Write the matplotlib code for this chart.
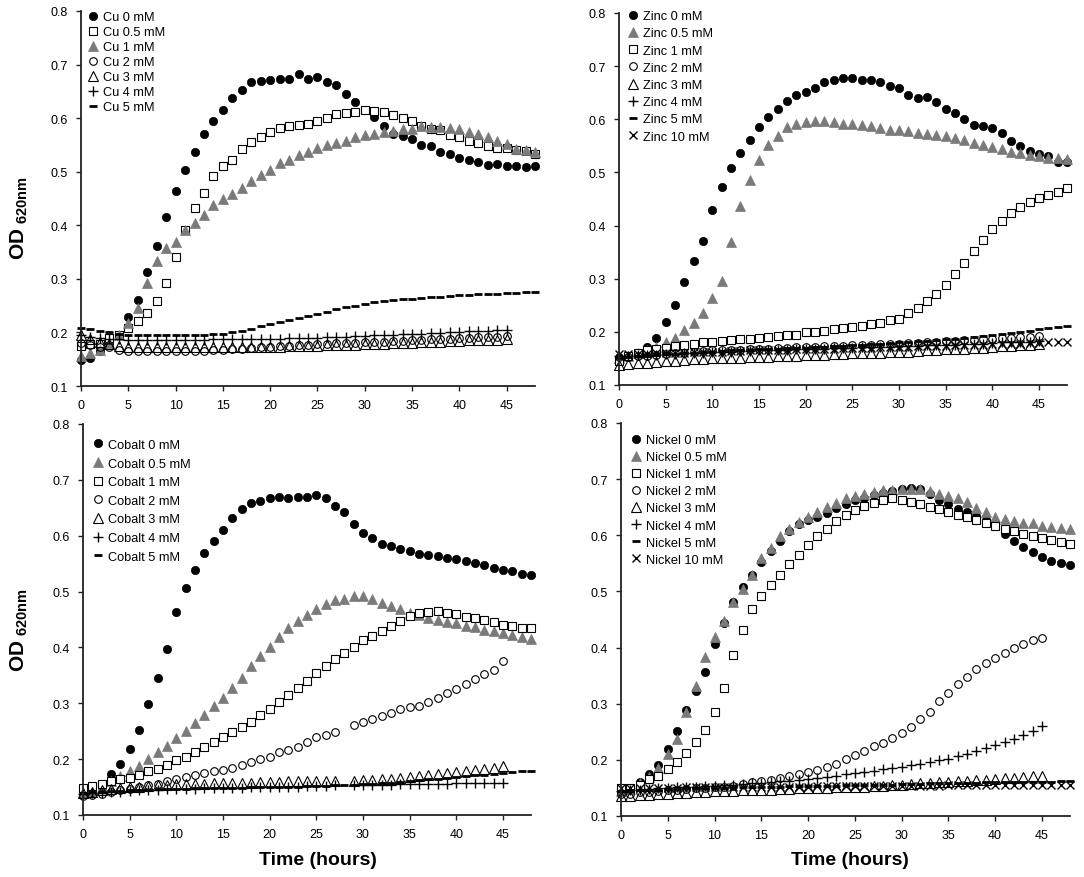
import numpy as np
import matplotlib
matplotlib.use("Agg")
import matplotlib.pyplot as plt

plt.rcParams['font.family'] = ['Liberation Sans', 'DejaVu Sans']
plt.rcParams['mathtext.fontset'] = 'custom'
plt.rcParams['mathtext.rm'] = 'Liberation Sans'
plt.rcParams['mathtext.bf'] = 'Liberation Sans:bold'

nan = np.nan
hours = np.arange(49)

# ---- Copper ----
cu_labels = ['Cu 0 mM', 'Cu 0.5 mM', 'Cu 1 mM', 'Cu 2 mM', 'Cu 3 mM', 'Cu 4 mM', 'Cu 5 mM']
cu0 = [0.149, 0.153, 0.165, 0.180, 0.195, 0.229, 0.260, 0.313, 0.361, 0.415,
       0.464, 0.504, 0.537, 0.570, 0.594, 0.616, 0.637, 0.652, 0.667, 0.669,
       0.671, 0.674, 0.674, 0.682, 0.674, 0.677, 0.668, 0.661, 0.646, 0.630,
       0.615, 0.602, 0.585, 0.570, 0.567, 0.562, 0.550, 0.548, 0.537, 0.534,
       0.526, 0.522, 0.518, 0.513, 0.515, 0.511, 0.511, 0.508, 0.511]
cu05 = [0.175, 0.178, 0.178, 0.190, 0.195, 0.209, 0.221, 0.236, 0.259, 0.292,
        0.341, 0.391, 0.432, 0.460, 0.492, 0.511, 0.522, 0.543, 0.556, 0.564,
        0.575, 0.582, 0.585, 0.588, 0.590, 0.594, 0.600, 0.607, 0.609, 0.611,
        0.616, 0.614, 0.612, 0.606, 0.600, 0.595, 0.585, 0.580, 0.577, 0.569,
        0.564, 0.557, 0.554, 0.548, 0.545, 0.545, 0.541, 0.539, 0.534]
cu1 = [0.156, 0.162, 0.168, 0.180, 0.195, 0.218, 0.246, 0.293, 0.333, 0.358,
       0.369, 0.391, 0.405, 0.420, 0.437, 0.450, 0.458, 0.470, 0.483, 0.494,
       0.503, 0.516, 0.521, 0.531, 0.537, 0.545, 0.549, 0.554, 0.558, 0.564,
       0.568, 0.570, 0.575, 0.576, 0.579, 0.580, 0.585, 0.584, 0.583, 0.582,
       0.580, 0.574, 0.570, 0.565, 0.557, 0.551, 0.543, 0.541, 0.536]
cu2 = [0.180, 0.176, 0.172, 0.172, 0.168, 0.166, 0.166, 0.166, 0.166, 0.166,
       0.166, 0.166, 0.166, 0.166, 0.167, 0.168, 0.169, 0.170, 0.171, 0.172,
       0.173, 0.174, 0.175, 0.176, 0.177, 0.178, 0.179, 0.180, 0.180, 0.181,
       0.182, 0.182, 0.183, 0.184, 0.184, 0.185, 0.186, 0.187, 0.187, 0.188,
       0.189, 0.190, 0.191, 0.191, 0.192, 0.193]
cu3 = [0.195, 0.188, 0.182, 0.178, 0.175, 0.172, 0.172, 0.172, 0.172, 0.172,
       0.172, 0.172, 0.172, 0.172, 0.172, 0.172, 0.172, 0.172, 0.173, 0.173,
       0.173, 0.173, 0.174, 0.174, 0.174, 0.175, 0.176, 0.176, 0.177, 0.177,
       0.178, 0.178, 0.179, 0.180, 0.181, 0.181, 0.182, 0.183, 0.183, 0.184,
       0.184, 0.185, 0.185, 0.186, 0.186, 0.187]
cu4 = [0.195, 0.192, 0.190, 0.188, 0.187, 0.186, 0.186, 0.186, 0.186, 0.186,
       0.186, 0.186, 0.186, 0.186, 0.187, 0.187, 0.187, 0.187, 0.187, 0.188,
       0.188, 0.188, 0.189, 0.189, 0.190, 0.190, 0.191, 0.192, 0.192, 0.193,
       0.194, 0.195, 0.195, 0.196, 0.197, 0.197, 0.198, 0.199, 0.199, 0.200,
       0.201, 0.202, 0.202, 0.203, 0.204, 0.205]
cu5 = [0.209, 0.206, 0.203, 0.200, 0.198, 0.196, 0.196, 0.196, 0.196, 0.196,
       0.196, 0.196, 0.196, 0.196, 0.197, 0.198, 0.200, 0.203, 0.206, 0.212,
       0.216, 0.220, 0.223, 0.227, 0.231, 0.235, 0.239, 0.243, 0.247, 0.250,
       0.253, 0.256, 0.258, 0.260, 0.262, 0.263, 0.265, 0.266, 0.267, 0.268,
       0.269, 0.270, 0.271, 0.272, 0.272, 0.273, 0.274, 0.275, 0.276]

# ---- Zinc ----
zn_labels = ['Zinc 0 mM', 'Zinc 0.5 mM', 'Zinc 1 mM', 'Zinc 2 mM', 'Zinc 3 mM',
             'Zinc 4 mM', 'Zinc 5 mM', 'Zinc 10 mM']
zn0 = [0.150, 0.155, 0.160, 0.172, 0.188, 0.219, 0.250, 0.294, 0.334, 0.371,
       0.430, 0.472, 0.509, 0.536, 0.561, 0.585, 0.605, 0.620, 0.635, 0.646,
       0.651, 0.658, 0.671, 0.674, 0.677, 0.677, 0.673, 0.673, 0.671, 0.662,
       0.658, 0.646, 0.640, 0.642, 0.632, 0.620, 0.611, 0.600, 0.590, 0.588,
       0.584, 0.574, 0.560, 0.550, 0.541, 0.534, 0.530, 0.519, 0.519]
zn05 = [0.150, 0.155, 0.160, 0.165, 0.172, 0.181, 0.189, 0.204, 0.217, 0.236,
        0.263, 0.295, 0.370, 0.437, 0.486, 0.524, 0.551, 0.569, 0.585, 0.592,
        0.594, 0.596, 0.597, 0.595, 0.592, 0.592, 0.590, 0.588, 0.583, 0.580,
        0.580, 0.578, 0.575, 0.573, 0.571, 0.569, 0.564, 0.561, 0.556, 0.552,
        0.548, 0.544, 0.539, 0.536, 0.533, 0.530, 0.528, 0.527, 0.526]
zn1 = [0.145, 0.155, 0.160, 0.165, 0.168, 0.170, 0.173, 0.175, 0.178, 0.180,
       0.181, 0.182, 0.184, 0.186, 0.186, 0.188, 0.190, 0.192, 0.194, 0.195,
       0.199, 0.200, 0.202, 0.205, 0.207, 0.209, 0.211, 0.214, 0.217, 0.222,
       0.225, 0.235, 0.244, 0.258, 0.272, 0.288, 0.308, 0.329, 0.352, 0.373,
       0.393, 0.409, 0.423, 0.435, 0.445, 0.452, 0.458, 0.464, 0.470]
zn2 = [0.152, 0.153, 0.154, 0.155, 0.157, 0.158, 0.160, 0.161, 0.162, 0.164,
       0.165, 0.165, 0.166, 0.166, 0.167, 0.168, 0.168, 0.169, 0.170, 0.171,
       0.172, 0.172, 0.173, 0.173, 0.174, 0.175, 0.175, 0.176, 0.177, 0.177,
       0.178, 0.179, 0.179, 0.180, 0.181, 0.182, 0.183, 0.184, 0.185, 0.186,
       0.187, 0.188, 0.189, 0.190, 0.191, 0.192]
zn3 = [0.138, 0.140, 0.141, 0.142, 0.144, 0.145, 0.146, 0.147, 0.148, 0.149,
       0.150, 0.150, 0.151, 0.151, 0.152, 0.153, 0.153, 0.154, 0.155, 0.155,
       0.156, 0.157, 0.157, 0.158, 0.159, 0.160, 0.160, 0.161, 0.161, 0.162,
       0.163, 0.163, 0.164, 0.165, 0.166, 0.167, 0.168, 0.168, 0.169, 0.170,
       0.172, 0.173, 0.174, 0.175, 0.176, 0.177]
zn4 = [0.155, 0.155, 0.156, 0.157, 0.157, 0.158, 0.159, 0.160, 0.161, 0.161,
       0.162, 0.163, 0.163, 0.164, 0.164, 0.165, 0.165, 0.166, 0.166, 0.167,
       0.167, 0.168, 0.168, 0.169, 0.169, 0.170, 0.171, 0.171, 0.172, 0.172,
       0.173, 0.173, 0.174, 0.175, 0.175, 0.176, 0.176, 0.177, 0.178, 0.178,
       0.179, 0.180, 0.180, 0.181, 0.181, 0.182]
zn5 = [0.150, 0.152, 0.154, 0.155, 0.156, 0.158, 0.159, 0.160, 0.161, 0.162,
       0.163, 0.164, 0.165, 0.165, 0.166, 0.167, 0.167, 0.168, 0.169, 0.169,
       0.170, 0.171, 0.172, 0.173, 0.174, 0.175, 0.176, 0.177, 0.178, 0.179,
       0.180, 0.181, 0.182, 0.183, 0.184, 0.186, 0.187, 0.188, 0.190, 0.192,
       0.194, 0.196, 0.198, 0.200, 0.202, 0.205, 0.207, 0.209, 0.211]
zn10 = [0.158, 0.158, 0.159, 0.159, 0.160, 0.160, 0.161, 0.161, 0.162, 0.162,
        0.163, 0.163, 0.164, 0.164, 0.165, 0.165, 0.165, 0.166, 0.166, 0.167,
        0.167, 0.167, 0.168, 0.168, 0.169, 0.169, 0.170, 0.170, 0.171, 0.171,
        0.172, 0.172, 0.173, 0.173, 0.174, 0.174, 0.175, 0.175, 0.176, 0.176,
        0.177, 0.177, 0.178, 0.178, 0.179, 0.179, 0.180, 0.180, 0.180]

# ---- Cobalt ----
co_labels = ['Cobalt 0 mM', 'Cobalt 0.5 mM', 'Cobalt 1 mM', 'Cobalt 2 mM',
             'Cobalt 3 mM', 'Cobalt 4 mM', 'Cobalt 5 mM']
co0 = [0.140, 0.142, 0.150, 0.173, 0.192, 0.219, 0.252, 0.298, 0.345, 0.397,
       0.464, 0.506, 0.539, 0.569, 0.591, 0.610, 0.631, 0.647, 0.658, 0.662,
       0.668, 0.670, 0.668, 0.670, 0.670, 0.673, 0.668, 0.653, 0.643, 0.621,
       0.604, 0.596, 0.585, 0.581, 0.576, 0.572, 0.567, 0.565, 0.563, 0.560,
       0.558, 0.554, 0.552, 0.547, 0.543, 0.538, 0.536, 0.531, 0.529]
co05 = [0.140, 0.145, 0.150, 0.160, 0.170, 0.179, 0.187, 0.201, 0.213, 0.224,
        0.237, 0.250, 0.265, 0.279, 0.295, 0.310, 0.328, 0.346, 0.366, 0.385,
        0.401, 0.419, 0.434, 0.447, 0.458, 0.468, 0.477, 0.485, 0.486, 0.492,
        0.492, 0.487, 0.479, 0.474, 0.468, 0.462, 0.458, 0.453, 0.450, 0.446,
        0.443, 0.439, 0.436, 0.431, 0.430, 0.425, 0.422, 0.418, 0.415]
co1 = [0.148, 0.152, 0.156, 0.160, 0.164, 0.167, 0.172, 0.178, 0.182, 0.189,
       0.199, 0.204, 0.213, 0.222, 0.231, 0.240, 0.249, 0.258, 0.267, 0.279,
       0.289, 0.303, 0.314, 0.327, 0.340, 0.354, 0.366, 0.379, 0.390, 0.401,
       0.413, 0.421, 0.430, 0.439, 0.447, 0.456, 0.461, 0.464, 0.465, 0.462,
       0.459, 0.455, 0.452, 0.449, 0.446, 0.441, 0.439, 0.434, 0.434]
co2 = [0.134, 0.135, 0.138, 0.141, 0.144, 0.147, 0.150, 0.153, 0.156, 0.160,
       0.164, 0.168, 0.172, 0.176, 0.178, 0.181, 0.184, 0.189, 0.194, 0.200,
       0.204, 0.212, 0.216, 0.222, 0.231, 0.239, 0.243, 0.249, nan, 0.261,
       0.267, 0.271, 0.277, 0.283, 0.289, 0.294, 0.296, 0.303, 0.310, 0.318,
       0.325, 0.334, 0.343, 0.352, 0.360, 0.375]
co3 = [0.140, 0.142, 0.144, 0.146, 0.148, 0.150, 0.151, 0.152, 0.153, 0.154,
       0.155, 0.155, 0.156, 0.156, 0.157, 0.157, 0.158, 0.158, 0.158, 0.159,
       0.159, 0.159, 0.160, 0.160, 0.160, 0.161, 0.161, 0.161, nan, 0.161,
       0.162, 0.163, 0.164, 0.165, 0.166, 0.168, 0.169, 0.171, 0.173, 0.175,
       0.177, 0.179, 0.181, 0.183, 0.184, 0.187]
co4 = [0.138, 0.139, 0.140, 0.141, 0.142, 0.143, 0.144, 0.145, 0.145, 0.146,
       0.146, 0.147, 0.147, 0.148, 0.148, 0.148, 0.149, 0.149, 0.150, 0.150,
       0.150, 0.151, 0.151, 0.151, 0.152, 0.152, 0.152, 0.153, nan, 0.153,
       0.153, 0.154, 0.154, 0.154, 0.155, 0.155, 0.155, 0.156, 0.156, 0.156,
       0.157, 0.157, 0.157, 0.157, 0.158, 0.158]
co5 = [0.140, 0.141, 0.142, 0.143, 0.143, 0.144, 0.145, 0.145, 0.146, 0.146,
       0.147, 0.147, 0.148, 0.148, 0.148, 0.149, 0.149, 0.149, 0.150, 0.150,
       0.150, 0.151, 0.151, 0.151, 0.152, 0.152, 0.152, 0.153, 0.153, 0.154,
       0.155, 0.156, 0.157, 0.158, 0.159, 0.161, 0.162, 0.164, 0.165, 0.167,
       0.168, 0.169, 0.171, 0.172, 0.173, 0.175, 0.177, 0.178, 0.179]

# ---- Nickel ----
ni_labels = ['Nickel 0 mM', 'Nickel 0.5 mM', 'Nickel 1 mM', 'Nickel 2 mM',
             'Nickel 3 mM', 'Nickel 4 mM', 'Nickel 5 mM', 'Nickel 10 mM']
ni0 = [0.145, 0.148, 0.160, 0.174, 0.191, 0.219, 0.252, 0.288, 0.322, 0.357,
       0.406, 0.444, 0.481, 0.507, 0.530, 0.552, 0.572, 0.589, 0.607, 0.620,
       0.627, 0.633, 0.639, 0.648, 0.655, 0.663, 0.667, 0.671, 0.676, 0.679,
       0.682, 0.684, 0.682, 0.673, 0.663, 0.655, 0.647, 0.642, 0.635, 0.628,
       0.617, 0.602, 0.590, 0.580, 0.571, 0.561, 0.555, 0.550, 0.547]
ni05 = [0.145, 0.148, 0.158, 0.170, 0.185, 0.211, 0.238, 0.285, 0.331, 0.384,
        0.418, 0.448, 0.481, 0.504, 0.530, 0.559, 0.578, 0.599, 0.612, 0.623,
        0.632, 0.642, 0.650, 0.658, 0.666, 0.670, 0.674, 0.677, 0.680, 0.680,
        0.682, 0.683, 0.682, 0.678, 0.674, 0.670, 0.666, 0.660, 0.648, 0.642,
        0.633, 0.629, 0.626, 0.621, 0.621, 0.617, 0.615, 0.613, 0.612]
ni1 = [0.149, 0.150, 0.155, 0.166, 0.172, 0.184, 0.196, 0.213, 0.232, 0.254,
       0.286, 0.328, 0.387, 0.432, 0.468, 0.492, 0.512, 0.530, 0.549, 0.565,
       0.583, 0.599, 0.612, 0.626, 0.636, 0.645, 0.652, 0.658, 0.663, 0.666,
       0.663, 0.660, 0.655, 0.651, 0.647, 0.642, 0.636, 0.632, 0.627, 0.621,
       0.617, 0.611, 0.608, 0.603, 0.599, 0.595, 0.591, 0.588, 0.585]
ni2 = [0.140, 0.140, 0.142, 0.143, 0.145, 0.146, 0.147, 0.148, 0.149, 0.150,
       0.151, 0.152, 0.153, 0.157, 0.160, 0.163, 0.165, 0.168, 0.171, 0.174,
       0.178, 0.182, 0.187, 0.193, 0.202, 0.208, 0.216, 0.224, 0.230, 0.239,
       0.248, 0.259, 0.272, 0.286, 0.304, 0.319, 0.335, 0.348, 0.362, 0.372,
       0.381, 0.390, 0.399, 0.406, 0.414, 0.417]
ni3 = [0.135, 0.136, 0.137, 0.138, 0.139, 0.140, 0.141, 0.141, 0.142, 0.143,
       0.144, 0.144, 0.145, 0.146, 0.146, 0.147, 0.147, 0.148, 0.148, 0.149,
       0.149, 0.150, 0.150, 0.151, 0.151, 0.152, 0.152, 0.153, 0.154, 0.155,
       0.156, 0.157, 0.158, 0.159, 0.160, 0.161, 0.162, 0.163, 0.164, 0.165,
       0.166, 0.167, 0.168, 0.169, 0.171, 0.172]
ni4 = [0.145, 0.146, 0.147, 0.148, 0.149, 0.150, 0.151, 0.152, 0.152, 0.153,
       0.154, 0.155, 0.156, 0.157, 0.158, 0.159, 0.160, 0.162, 0.163, 0.165,
       0.166, 0.168, 0.170, 0.172, 0.175, 0.177, 0.179, 0.181, 0.183, 0.186,
       0.188, 0.190, 0.193, 0.196, 0.199, 0.202, 0.206, 0.211, 0.216, 0.221,
       0.226, 0.232, 0.238, 0.244, 0.252, 0.261]
ni5 = [0.145, 0.146, 0.146, 0.147, 0.147, 0.148, 0.148, 0.149, 0.149, 0.150,
       0.150, 0.150, 0.151, 0.151, 0.151, 0.152, 0.152, 0.152, 0.153, 0.153,
       0.153, 0.154, 0.154, 0.154, 0.155, 0.155, 0.155, 0.156, 0.156, 0.156,
       0.157, 0.157, 0.157, 0.158, 0.158, 0.158, 0.159, 0.159, 0.159, 0.160,
       0.160, 0.160, 0.160, 0.161, 0.161, 0.161, 0.161, 0.162, 0.162]
ni10 = [0.150, 0.150, 0.150, 0.150, 0.150, 0.150, 0.150, 0.151, 0.151, 0.151,
        0.151, 0.151, 0.151, 0.151, 0.152, 0.152, 0.152, 0.152, 0.152, 0.152,
        0.152, 0.153, 0.153, 0.153, 0.153, 0.153, 0.153, 0.153, 0.154, 0.154,
        0.154, 0.154, 0.154, 0.154, 0.154, 0.155, 0.155, 0.155, 0.155, 0.155,
        0.155, 0.155, 0.156, 0.156, 0.156, 0.156, 0.156, 0.156, 0.156]

GRAY = '#7a7a7a'
STY = {
    'dot':  dict(marker='o', ms=6, mfc='black', mec='black', mew=0.5),
    'gtri': dict(marker='^', ms=6.5, mfc=GRAY, mec=GRAY, mew=0.5),
    'sq':   dict(marker='s', ms=5.2, mfc='white', mec='black', mew=0.8),
    'circ': dict(marker='o', ms=5.5, mfc='none', mec='black', mew=0.8),
    'tri':  dict(marker='^', ms=7.5, mfc='none', mec='black', mew=0.8),
    'plus': dict(marker='+', ms=7, mec='black', mew=1.0),
    'dash': dict(marker='_', ms=6, mec='black', mew=2.0),
    'x':    dict(marker='x', ms=6, mec='black', mew=1.0),
}

panels = [
    # axes rect, labels, series, styles, legend anchor, label spacing
    ([81/1084, 1-387/878, 454/1084, 375/878], cu_labels,
     [cu0, cu05, cu1, cu2, cu3, cu4, cu5],
     ['dot', 'sq', 'gtri', 'circ', 'tri', 'plus', 'dash'], (0.015, 1.0), 0.24),
    ([619/1084, 1-386/878, 448/1084, 372/878], zn_labels,
     [zn0, zn05, zn1, zn2, zn3, zn4, zn5, zn10],
     ['dot', 'gtri', 'sq', 'circ', 'tri', 'plus', 'dash', 'x'], (0.02, 1.008), 0.41),
    ([83/1084, 1-816/878, 448/1084, 391/878], co_labels,
     [co0, co05, co1, co2, co3, co4, co5],
     ['dot', 'gtri', 'sq', 'circ', 'tri', 'plus', 'dash'], (0.022, 0.962), 0.52),
    ([621/1084, 1-817/878, 449/1084, 393/878], ni_labels,
     [ni0, ni05, ni1, ni2, ni3, ni4, ni5, ni10],
     ['dot', 'gtri', 'sq', 'circ', 'tri', 'plus', 'dash', 'x'], (0.022, 0.972), 0.40),
]

fig = plt.figure(figsize=(10.84, 8.78), dpi=100)

for rect, labels, series, styles, anchor, lsp in panels:
    ax = fig.add_axes(rect)
    for lab, vals, st in zip(labels, series, styles):
        ax.plot(hours[:len(vals)], vals, linestyle='none', label=lab,
                clip_on=False, **STY[st])
    ax.set_xlim(0, 48)
    ax.set_ylim(0.1, 0.8)
    ax.set_xticks(range(0, 50, 5))
    ax.set_yticks(np.arange(0.1, 0.81, 0.1))
    ax.set_yticklabels(['%.1f' % v for v in np.arange(0.1, 0.81, 0.1)])
    for s in ['top', 'right']:
        ax.spines[s].set_visible(False)
    for s in ['left', 'bottom']:
        ax.spines[s].set_linewidth(1.3)
        ax.spines[s].set_color('#222222')
    ax.tick_params(direction='out', length=3.5, width=1, labelsize=9,
                   colors='#222222', labelcolor='black', pad=6)
    ax.legend(loc='upper left', bbox_to_anchor=anchor, frameon=False,
              fontsize=9.2, handlelength=0.8, handletextpad=0.35,
              labelspacing=lsp, borderpad=0, borderaxespad=0, numpoints=1)

ylab = r'$\mathbf{OD}_{\mathbf{\ 620nm}}$'
fig.text(0.018, 1-218/878, ylab, rotation=90, ha='center', va='center', fontsize=15)
fig.text(0.018, 1-630/878, ylab, rotation=90, ha='center', va='center', fontsize=15)
fig.text(318/1084, 1-861/878, 'Time (hours)', ha='center', va='center',
         fontsize=14, fontweight='bold')
fig.text(850/1084, 1-861/878, 'Time (hours)', ha='center', va='center',
         fontsize=14, fontweight='bold')

fig.savefig('out.png', dpi=100)
